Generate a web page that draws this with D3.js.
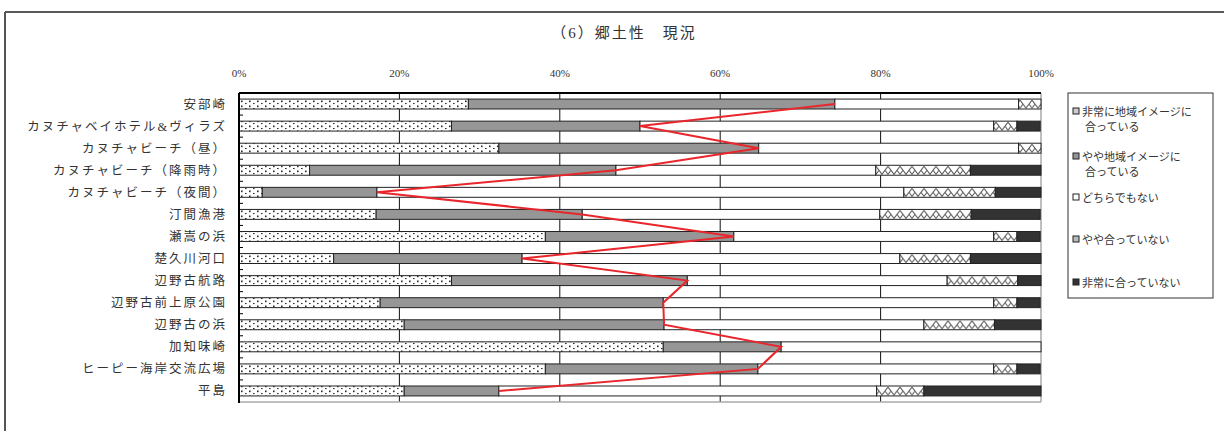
<!DOCTYPE html>
<html>
<head>
<meta charset="utf-8">
<script src="https://d3js.org/d3.v7.min.js"></script>
<style>
body { margin: 0; background: #fff; }
svg { display: block; }
text { font-family: 'Liberation Serif', 'Noto Sans CJK JP', serif; fill: #333; }
</style>
</head>
<body>
<div id="chart"></div>
<script>
// categories (top to bottom)
var places = ["安部崎", "カヌチャベイホテル&ヴィラズ", "カヌチャビーチ（昼）", "カヌチャビーチ（降雨時）",
  "カヌチャビーチ（夜間）", "汀間漁港", "瀬嵩の浜", "楚久川河口", "辺野古航路", "辺野古前上原公園",
  "辺野古の浜", "加知味崎", "ヒーピー海岸交流広場", "平島"];

// percentages per answer
var veryFit   = [28.6, 26.5, 32.4, 8.8, 2.9, 17.1, 38.2, 11.8, 26.5, 17.6, 20.6, 52.9, 38.2, 20.6];
var someFit   = [45.7, 23.5, 32.4, 38.2, 14.3, 25.7, 23.5, 23.5, 29.4, 35.3, 32.4, 14.7, 26.5, 11.8];
var neither   = [22.9, 44.1, 32.4, 32.4, 65.7, 37.1, 32.4, 47.1, 32.4, 41.2, 32.4, 32.4, 29.4, 47.1];
var someNot   = [2.9, 2.9, 2.9, 11.8, 11.4, 11.4, 2.9, 8.8, 8.8, 2.9, 8.8, 0, 2.9, 5.9];
var veryNot   = [0, 2.9, 0, 8.8, 5.7, 8.6, 2.9, 8.8, 2.9, 2.9, 5.9, 0, 2.9, 14.7];

var seriesNames = ["非常に地域イメージに\n合っている", "やや地域イメージに\n合っている", "どちらでもない",
  "やや合っていない", "非常に合っていない"];
var tickLabels = ["0%", "20%", "40%", "60%", "80%", "100%"];
var tickValues = [0, 20, 40, 60, 80, 100];

var seriesData = [veryFit, someFit, neither, someNot, veryNot];
var fills = ["url(#dots)", "#969696", "#ffffff", "url(#zig)", "#333333"];

var W = 1224, H = 431;
var svg = d3.select("#chart").append("svg").attr("width", W).attr("height", H);

var plotLeft = 239, plotRight = 1041, plotTop = 93, plotBottom = 402;
var x = d3.scaleLinear().domain([0, 100]).range([plotLeft, plotRight]);
var y = d3.scaleBand().domain(places).range([plotTop, plotBottom]).paddingInner(0.55).paddingOuter(0.275);

// patterns
var defs = svg.append("defs");
var dots = defs.append("pattern").attr("id", "dots").attr("patternUnits", "userSpaceOnUse")
  .attr("width", 8).attr("height", 5).attr("y", y(places[0]));
dots.append("rect").attr("width", 8).attr("height", 5).attr("fill", "#fff");
dots.append("rect").attr("x", 1).attr("y", 1.5).attr("width", 1.6).attr("height", 1.6).attr("fill", "#222");
dots.append("rect").attr("x", 5).attr("y", 4).attr("width", 1.6).attr("height", 1.6).attr("fill", "#222");

var zig = defs.append("pattern").attr("id", "zig").attr("patternUnits", "userSpaceOnUse")
  .attr("width", 12).attr("height", y.step()).attr("y", y(places[0]));
zig.append("rect").attr("width", 12).attr("height", y.step()).attr("fill", "#fff");
zig.append("path").attr("d", "M0,1 L6,9 L12,1 M0,9 L3,5 M9,5 L12,9").attr("fill", "none")
  .attr("stroke", "#555").attr("stroke-width", 1);

// outer frame
svg.append("line").attr("x1", 5).attr("x2", W).attr("y1", 12).attr("y2", 12).attr("stroke", "#222").attr("stroke-width", 1.5);
svg.append("line").attr("x1", 5).attr("x2", 5).attr("y1", 12).attr("y2", H).attr("stroke", "#555").attr("stroke-width", 2);

svg.append("text").attr("x", 624).attr("y", 38).attr("text-anchor", "middle")
  .style("font-size", "15px").style("letter-spacing", "2px").text("（6）郷土性　現況");

// grid lines
svg.append("g").selectAll("line").data(tickValues.slice(1, 5)).enter().append("line")
  .attr("x1", function(d) { return x(d); }).attr("x2", function(d) { return x(d); })
  .attr("y1", plotTop).attr("y2", plotBottom).attr("stroke", "#111").attr("stroke-width", 1);
svg.append("line").attr("x1", plotRight).attr("x2", plotRight).attr("y1", plotTop).attr("y2", plotBottom)
  .attr("stroke", "#aaa").attr("stroke-width", 1.5);
svg.append("line").attr("x1", plotLeft).attr("x2", plotRight).attr("y1", plotBottom).attr("y2", plotBottom)
  .attr("stroke", "#aaa").attr("stroke-width", 1.5);

// tick labels (top)
svg.append("g").selectAll("text").data(tickValues).enter().append("text")
  .attr("x", function(d) { return x(d); }).attr("y", 77).attr("text-anchor", "middle")
  .style("font-size", "11px").text(function(d, i) { return tickLabels[i]; });

// stacked bars
var stacked = places.map(function(p, i) {
  var cum = 0;
  return seriesData.map(function(s, k) {
    var seg = { place: p, k: k, x0: cum, x1: cum + s[i] };
    cum += s[i];
    return seg;
  });
});

var rows = svg.append("g").selectAll("g").data(stacked).enter().append("g");
rows.selectAll("rect").data(function(d) { return d.filter(function(s) { return s.x1 > s.x0; }); })
  .enter().append("rect")
  .attr("x", function(d) { return x(d.x0); })
  .attr("width", function(d) { return x(Math.min(d.x1, 100)) - x(d.x0); })
  .attr("y", function(d) { return y(d.place); })
  .attr("height", y.bandwidth())
  .attr("fill", function(d) { return fills[d.k]; })
  .attr("stroke", "#222").attr("stroke-width", 1);

// axes lines
svg.append("line").attr("x1", plotLeft).attr("x2", plotRight).attr("y1", plotTop).attr("y2", plotTop)
  .attr("stroke", "#000").attr("stroke-width", 2);
svg.append("line").attr("x1", plotLeft).attr("x2", plotLeft).attr("y1", plotTop).attr("y2", plotBottom + 1)
  .attr("stroke", "#000").attr("stroke-width", 2);
svg.append("g").selectAll("line").data(places.slice(1)).enter().append("line")
  .attr("x1", plotLeft).attr("x2", plotLeft + 4)
  .attr("y1", function(d) { return y(d) - y.step() * y.paddingInner() / 2; })
  .attr("y2", function(d) { return y(d) - y.step() * y.paddingInner() / 2; })
  .attr("stroke", "#000").attr("stroke-width", 1);

// category labels
svg.append("g").selectAll("text").data(places).enter().append("text")
  .attr("x", 227).attr("y", function(d) { return y(d) + y.bandwidth() / 2 + 4.5; })
  .attr("text-anchor", "end").style("font-size", "12.5px").style("letter-spacing", "2px")
  .text(function(d) { return d; });

// red line through end of second segment
var line = d3.line()
  .x(function(d, i) { return x(veryFit[i] + someFit[i]); })
  .y(function(d) { return y(d) + y.bandwidth() / 2; });
svg.append("path").datum(places).attr("d", line).attr("fill", "none")
  .attr("stroke", "#e8262c").attr("stroke-width", 2);

// legend
var lg = svg.append("g");
lg.append("rect").attr("x", 1068).attr("y", 93).attr("width", 145).attr("height", 205)
  .attr("fill", "#fff").attr("stroke", "#333").attr("stroke-width", 1);
var legY = [112, 157, 198, 240, 283];
seriesNames.forEach(function(name, k) {
  lg.append("rect").attr("x", 1073).attr("y", legY[k] - 4).attr("width", 6).attr("height", 6)
    .attr("fill", k === 0 ? "#ccc" : (k === 3 ? "#bbb" : fills[k])).attr("stroke", "#222").attr("stroke-width", 1);
  name.split("\n").forEach(function(t, j) {
    lg.append("text").attr("x", j === 0 ? 1082 : 1085).attr("y", legY[k] + 4 + j * 15)
      .style("font-size", "11px").text(t);
  });
});
</script>
</body>
</html>
